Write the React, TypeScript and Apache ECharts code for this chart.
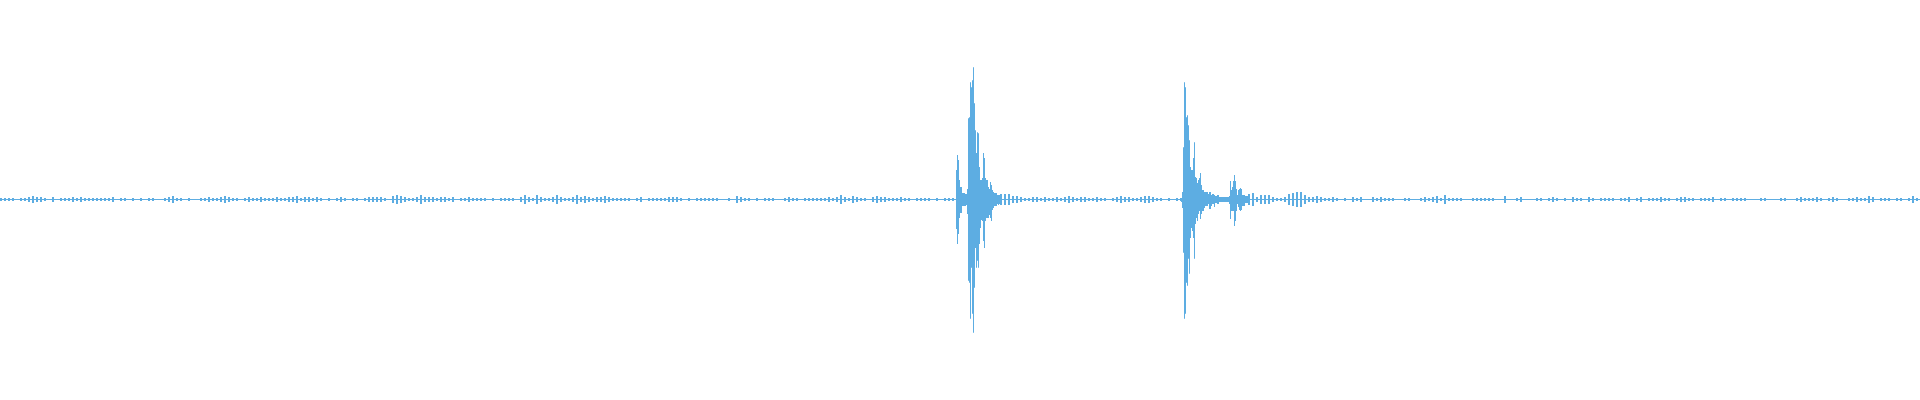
import React, { useEffect, useRef } from 'react';
import * as echarts from 'echarts';

// Waveform peaks, amplitude in % of full scale (+ up, - down)
const totalColumns = 1920;
const bucketSize = 4;
const waveColor = '#5DADE2';

// quiet stretch before the first hit, one peak per 4 columns
const leadStart = 0;
const leadAmps = [
	0.5, 0.5, 0.5, 0.5, 0, 0.5, 0.5, 1, 1.5, 1,
	1, 0.5, 0, 1, 0, 0.5, 0.5, 0.5, 1, 0.5,
	1, 0.5, 0.5, 0.5, 0.5, 0.5, 0.5, 0.5, 1, 0,
	0.5, 0.5, 0, 0.5, 0, 0.5, 0, 0.5, 0.5, 0,
	0, 0.5, 1, 1.5, 0.5, 0.5, 0, 0.5, 0, 0,
	0.5, 0.5, 1, 0.5, 0.5, 1, 1.5, 1, 0.5, 0.5,
	0, 0.5, 1, 0.5, 0.5, 1, 0.5, 0.5, 0.5, 1,
	0.5, 0.5, 1, 1, 1.5, 0.5, 1, 1, 0.5, 1,
	0.5, 0, 0.5, 0, 0.5, 1, 0.5, 0, 0.5, 0.5,
	0, 0.5, 1, 1, 1, 1, 0.5, 0, 1.5, 2,
	1.5, 1, 0.5, 0.5, 1, 2, 1, 1, 1, 0.5,
	1, 1, 0.5, 1, 0, 0.5, 0.5, 1, 0.5, 0.5,
	0.5, 0.5, 0, 0.5, 0, 0.5, 0.5, 0.5, 0.5, 0,
	1, 2, 1, 0.5, 2, 1, 0.5, 0.5, 1, 2,
	1, 0.5, 0.5, 1, 2, 1, 1.5, 1, 0.5, 1,
	1, 1.5, 1, 0.5, 0.5, 0.5, 0.5, 0.5, 0, 0.5,
	1, 0, 0.5, 0.5, 0.5, 0.5, 0.5, 1, 1, 1,
	0.5, 0, 0.5, 0, 0.5, 0.5, 0.5, 0.5, 0.5, 0.5,
	0, 0, 0.5, 0, 1.5, 1, 0.5, 0.5, 0, 0.5,
	0, 0.5, 0.5, 0.5, 0, 0, 0.5, 1, 0.5, 0.5,
	0, 0.5, 0.5, 0.5, 0.5, 0.5, 0.5, 1, 0.5, 1,
	2, 1, 0.5, 1.5, 1, 0.5, 0.5, 0, 1, 1.5,
	1, 1, 0.5, 0.5, 0.5, 1, 0.5, 0.5, 0, 0.5,
	0.5, 0.5, 0.5, 0, 0.5, 0, 0.5, 0.5, 0.5
];

// first hit, one column each
const burstOneStart = 956;
const burstOneTop = [
	14.5, 22, 19.5, 9.5, 6, 6, 3, 3, 3, 2.5,
	2.5, 5, 40.5, 41, 58.5, 56, 59.5, 66, 48, 34.5,
	23, 33.5, 33, 16, 9.5, 9.5, 10.5, 23, 20.5, 10.5,
	9.5, 9.5, 6, 5, 8.5, 7, 4.5, 3.5, 3, 3,
	3, 2, 2, 2
];
const burstOneBottom = [
	-14.5, -22, -17, -9, -6.5, -6.5, -3, -3, -3, -3,
	-2.5, -7, -40.5, -41.5, -59.5, -34, -57, -66.5, -44, -24,
	-34, -30.5, -34, -22, -14, -10, -10.5, -20.5, -24, -10.5,
	-9, -9, -9, -7.5, -9, -10.5, -5, -4, -3, -3,
	-3, -2, -2.5, -2
];

// ringing between the two hits
const midStart = 1000;
const midAmps = [
	2.5, 2.5, 2.5, 1.5, 1.5, 1, 0.5, 0.5, 1, 1,
	0.5, 1, 0.5, 0.5, 1, 0.5, 1, 1.5, 1, 0.5,
	1, 1, 0.5, 0.5, 1, 0.5, 0.5, 0, 0.5, 1,
	1.5, 1, 1, 0.5, 0.5, 1, 1.5, 1.5, 1, 0.5,
	0.5, 0, 0.5, 0, 0.5
];

// second hit and its small echo
const burstTwoStart = 1180;
const burstTwoTop = [
	0.5, 0.5, 3.5, 26, 58.5, 56, 41, 42, 37, 29.5,
	16, 14.5, 14.5, 20.5, 28.5, 11, 10.5, 8, 9.5, 10.5,
	13, 7, 4.5, 4.5, 3.5, 3.5, 3.5, 3.5, 2.5, 3.5,
	3.5, 2, 2.5, 2.5, 2, 1.5, 1.5, 2, 2, 1,
	1, 1, 1, 1, 1, 1, 1, 1, 1, 1.5,
	9, 4.5, 6, 9, 12, 9, 5, 2, 4.5, 5,
	5.5, 5, 2, 2, 2, 1.5, 1.5, 1.5
];
const burstTwoBottom = [
	-0.5, -1, -4, -26.5, -59.5, -57, -41.5, -43, -29.5, -37,
	-19, -14, -15.5, -19, -29.5, -12, -9, -10.5, -7, -5.5,
	-9.5, -7, -5.5, -5.5, -4, -3, -3, -3, -2, -4.5,
	-4.5, -3, -2, -2, -3.5, -1.5, -1.5, -2, -2, -1,
	-1, -1, -1, -1, -1, -1, -1, -1, -1, -2,
	-9.5, -5.5, -5.5, -5.5, -13, -10.5, -5.5, -2, -3.5, -5,
	-5.5, -5, -3, -3, -3, -1.5, -1.5, -1.5
];

// quiet stretch to the end
const tailStart = 1248;
const tailAmps = [
	2.5, 3, 1, 2, 2, 2, 1, 0.5, 0.5, 1,
	2.5, 3, 3.5, 3.5, 2, 1, 1, 1.5, 1, 0.5,
	0.5, 1, 0.5, 0, 0.5, 0, 1, 0.5, 1, 0,
	0, 1, 0.5, 1, 0.5, 0.5, 0.5, 0, 0, 0.5,
	0.5, 0, 0, 0.5, 1, 0.5, 1, 1.5, 0.5, 2,
	0.5, 0.5, 0.5, 0.5, 0, 0, 0.5, 0.5, 0.5, 0.5,
	0.5, 0.5, 0, 0, 1.5, 0, 0, 0.5, 1, 0,
	0, 0, 0.5, 0.5, 0, 0.5, 1, 0.5, 0, 0.5,
	0, 1, 0.5, 0.5, 0, 1, 0.5, 0, 0.5, 0.5,
	0.5, 0.5, 0, 0.5, 0.5, 1, 0, 0.5, 1, 0,
	0.5, 0.5, 0.5, 1, 0.5, 0.5, 0, 0.5, 1, 1,
	0.5, 0.5, 0, 0.5, 0.5, 0.5, 1, 0, 0.5, 0.5,
	0, 0.5, 0.5, 0.5, 0.5, 0, 0, 0, 0.5, 0.5,
	0, 0, 0, 0.5, 0.5, 0, 0, 0.5, 1, 0.5,
	0.5, 0.5, 1, 0.5, 0, 0.5, 1, 0.5, 0, 0,
	0.5, 0.5, 1, 0.5, 0.5, 1.5, 1, 0, 0.5, 0.5,
	0.5, 0, 0.5, 0.5, 0, 0.5, 1.5, 0.5
];

// [column, top, bottom, span]
const bucketItems = (start: number, amps: number[]) =>
	amps.map((a, i) => [start + i * bucketSize, a, -a, bucketSize]);
const columnItems = (start: number, tops: number[], bottoms: number[]) =>
	tops.map((t, i) => [start + i, t, bottoms[i], 1]);

const App: React.FC = () => {
	const chartRef = useRef<HTMLDivElement>(null);

	useEffect(() => {
		if (!chartRef.current) return;
		const chart = echarts.init(chartRef.current, undefined, { renderer: 'svg' });

		const peaks = [
			...bucketItems(leadStart, leadAmps),
			...columnItems(burstOneStart, burstOneTop, burstOneBottom),
			...bucketItems(midStart, midAmps),
			...columnItems(burstTwoStart, burstTwoTop, burstTwoBottom),
			...bucketItems(tailStart, tailAmps)
		];

		const option: echarts.EChartsOption = {
			animation: false,
			backgroundColor: '#ffffff',
			grid: { left: 0, top: 0, width: totalColumns, height: 399 },
			xAxis: { type: 'value', min: 0, max: totalColumns, show: false },
			yAxis: { type: 'value', min: -100, max: 100, show: false },
			series: [
				{
					name: 'Baseline',
					type: 'line',
					data: [[0, 0], [totalColumns, 0]],
					symbol: 'none',
					silent: true,
					lineStyle: { color: waveColor, width: 1 }
				},
				{
					name: 'Waveform',
					type: 'custom',
					data: peaks,
					encode: { x: 0, y: [1, 2] },
					renderItem: (params: any, api: any) => {
						const col = api.value(0);
						const top = api.value(1);
						const bottom = api.value(2);
						const span = api.value(3);
						if (top === 0 && bottom === 0) return null;
						// quiet buckets drawn as thin ticks, hit columns full width
						const drawSpan = span > 1 ? span / 2 : span;
						const p1 = api.coord([col, top]);
						const p2 = api.coord([col + drawSpan, bottom]);
						return {
							type: 'rect',
							shape: {
								x: p1[0],
								y: p1[1] - 0.5,
								width: p2[0] - p1[0],
								height: p2[1] - p1[1] + 1
							},
							style: { fill: waveColor }
						};
					}
				}
			]
		};

		chart.setOption(option);

		return () => {
			chart.dispose();
		};
	}, []);

	return (
		<div style={{ position: 'absolute', left: 0, top: 0, width: '1920px', height: '400px', background: '#fff' }}>
			<div ref={chartRef} style={{ width: '1920px', height: '400px' }} />
		</div>
	);
};

export default App;
